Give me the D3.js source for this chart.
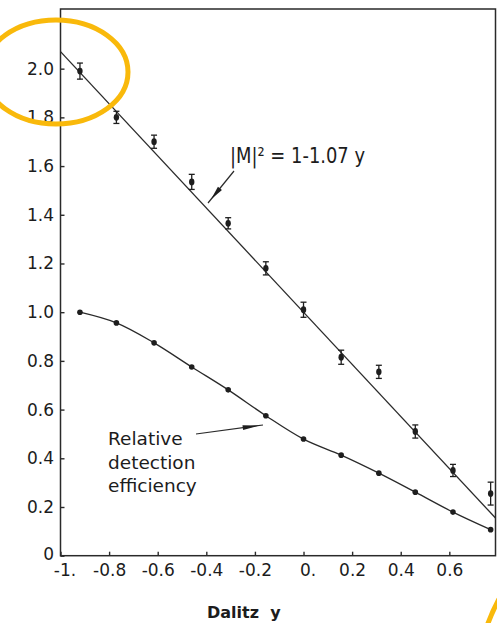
<!DOCTYPE html>
<html>
<head>
<meta charset="utf-8">
<script src="https://cdn.jsdelivr.net/npm/d3@7"></script>
<style>
  html, body { margin: 0; padding: 0; background: #fff; }
  svg { display: block; }
  text { font-family: "DejaVu Sans", sans-serif; fill: #1c1c1c; }
</style>
</head>
<body>
<svg id="chart" width="497" height="623"></svg>
<script>
// Dalitz-plot bin centres (y variable)
const dalitzY = [-0.92, -0.77, -0.615, -0.46, -0.31, -0.155, 0, 0.155, 0.31, 0.46, 0.615, 0.77];
// Measured |M|^2 per bin and its uncertainty
const matrixSq = [1.99, 1.80, 1.70, 1.535, 1.365, 1.18, 1.01, 0.815, 0.755, 0.51, 0.35, 0.255];
const matrixSqErr = [0.033, 0.025, 0.027, 0.031, 0.023, 0.027, 0.031, 0.029, 0.027, 0.027, 0.025, 0.047];
// Relative detection efficiency per bin
const efficiency = [1.0, 0.956, 0.874, 0.775, 0.681, 0.575, 0.479, 0.413, 0.339, 0.261, 0.179, 0.107];
// Linear fit |M|^2 = 1 - 1.07 y
const fitIntercept = 1;
const fitSlope = -1.07;

const xTicks = [-1, -0.8, -0.6, -0.4, -0.2, 0, 0.2, 0.4, 0.6];
const xTickLabels = ["-1.", "-0.8", "-0.6", "-0.4", "-0.2", "0.", "0.2", "0.4", "0.6"];
const yTicks = [0, 0.2, 0.4, 0.6, 0.8, 1.0, 1.2, 1.4, 1.6, 1.8, 2.0];
const yTickLabels = ["0", "0.2", "0.4", "0.6", "0.8", "1.0", "1.2", "1.4", "1.6", "1.8", "2.0"];

const svg = d3.select("#chart");
const plot = { left: 60.5, right: 495.5, top: 9, bottom: 555.7 };
const ink = "#1e1e1e";

const x = d3.scaleLinear().domain([-1, 0.79]).range([plot.left, plot.right]);
const y = d3.scaleLinear().domain([0, 2.245]).range([plot.bottom, plot.top]);

// frame
svg.append("rect")
  .attr("x", plot.left).attr("y", plot.top)
  .attr("width", plot.right - plot.left).attr("height", plot.bottom - plot.top)
  .attr("fill", "none").attr("stroke", "#2a2a2a").attr("stroke-width", 1.5);

// axes with inward ticks
const xAxis = d3.axisBottom(x)
  .tickValues(xTicks)
  .tickFormat((d, i) => xTickLabels[i])
  .tickSizeInner(-4).tickSizeOuter(0).tickPadding(8);
const gx = svg.append("g").attr("transform", `translate(0,${plot.bottom})`).call(xAxis);
gx.select(".domain").remove();
gx.selectAll(".tick line").attr("stroke", "#2a2a2a").attr("stroke-width", 1.4);
gx.selectAll(".tick text")
  .attr("font-size", 17).attr("font-family", "DejaVu Sans").attr("fill", ink)
  // labels with a trailing point sit slightly right of their tick
  .attr("dx", (d, i) => xTickLabels[i].endsWith(".") ? 4 : 0);

const yAxis = d3.axisLeft(y)
  .tickValues(yTicks)
  .tickFormat((d, i) => yTickLabels[i])
  .tickSizeInner(-4).tickSizeOuter(0).tickPadding(6.5);
const gy = svg.append("g").attr("transform", `translate(${plot.left},0)`).call(yAxis);
gy.select(".domain").remove();
gy.selectAll(".tick line").attr("stroke", "#2a2a2a").attr("stroke-width", 1.4);
gy.selectAll(".tick text").attr("font-size", 17).attr("font-family", "DejaVu Sans").attr("fill", ink);
gy.selectAll(".tick text").filter(d => d === 0).attr("dy", "0.2em");

// axis title
svg.append("text")
  .attr("x", 207).attr("y", 618)
  .attr("font-size", 16).attr("font-weight", "bold")
  .attr("fill", "#222")
  .style("white-space", "pre")
  .text("Dalitz  y");

// fitted straight line across the full range
const fitDomain = x.domain();
svg.append("line")
  .attr("x1", x(fitDomain[0])).attr("y1", y(fitIntercept + fitSlope * fitDomain[0]))
  .attr("x2", x(fitDomain[1])).attr("y2", y(fitIntercept + fitSlope * fitDomain[1]))
  .attr("stroke", "#2a2a2a").attr("stroke-width", 1.3);

// efficiency curve
const effPts = dalitzY.map((v, i) => [v, efficiency[i]]);
svg.append("path")
  .datum(effPts)
  .attr("d", d3.line().x(d => x(d[0])).y(d => y(d[1])).curve(d3.curveCatmullRom.alpha(0.5)))
  .attr("fill", "none").attr("stroke", "#2a2a2a").attr("stroke-width", 1.3);
svg.append("g").selectAll("circle")
  .data(effPts).join("circle")
  .attr("cx", d => x(d[0])).attr("cy", d => y(d[1]))
  .attr("r", 2.8).attr("fill", ink);

// measured |M|^2 with error bars
const meas = dalitzY.map((v, i) => ({ x: v, y: matrixSq[i], e: matrixSqErr[i] }));
const mg = svg.append("g").attr("stroke", ink).attr("stroke-width", 1.3);
mg.selectAll("line.bar").data(meas).join("line").attr("class", "bar")
  .attr("x1", d => x(d.x)).attr("x2", d => x(d.x))
  .attr("y1", d => y(d.y - d.e)).attr("y2", d => y(d.y + d.e));
mg.selectAll("line.capHi").data(meas).join("line").attr("class", "capHi")
  .attr("x1", d => x(d.x) - 3).attr("x2", d => x(d.x) + 3)
  .attr("y1", d => y(d.y + d.e)).attr("y2", d => y(d.y + d.e));
mg.selectAll("line.capLo").data(meas).join("line").attr("class", "capLo")
  .attr("x1", d => x(d.x) - 3).attr("x2", d => x(d.x) + 3)
  .attr("y1", d => y(d.y - d.e)).attr("y2", d => y(d.y - d.e));
svg.append("g").selectAll("ellipse").data(meas).join("ellipse")
  .attr("cx", d => x(d.x)).attr("cy", d => y(d.y))
  .attr("rx", 2.7).attr("ry", 3.4).attr("fill", ink);

// annotation arrows (line with elongated filled head)
function arrow(x1, y1, x2, y2, headTip, headLen, headHalf) {
  svg.append("line")
    .attr("x1", x1).attr("y1", y1).attr("x2", x2).attr("y2", y2)
    .attr("stroke", "#2a2a2a").attr("stroke-width", 1.2);
  const len = Math.hypot(x2 - x1, y2 - y1);
  const ux = (x2 - x1) / len, uy = (y2 - y1) / len;
  const tx = x1 + ux * headTip * len, ty = y1 + uy * headTip * len;
  const bx = tx - ux * headLen, by = ty - uy * headLen;
  svg.append("path")
    .attr("d", `M${tx},${ty} L${bx - uy * headHalf},${by + ux * headHalf} L${bx + uy * headHalf},${by - ux * headHalf} Z`)
    .attr("fill", "#1e1e1e");
}
arrow(234, 171, 208, 203, 0.88, 14, 2.6);
arrow(196, 434, 263, 425, 0.95, 17, 2.4);

// labels
svg.append("text")
  .attr("x", 230).attr("y", 163).attr("font-size", 22)
  .attr("textLength", 135).attr("lengthAdjust", "spacingAndGlyphs")
  .text("|M|² = 1-1.07 y");

const effLabel = svg.append("text").attr("font-size", 18.5);
["Relative", "detection", "efficiency"].forEach((t, i) => {
  effLabel.append("tspan").attr("x", 108).attr("y", 445 + i * 23.5).text(t);
});

// highlight marks
svg.append("ellipse")
  .attr("cx", 56).attr("cy", 72).attr("rx", 72).attr("ry", 52)
  .attr("fill", "none").attr("stroke", "#F9B90B").attr("stroke-width", 5);
svg.append("path")
  .attr("d", "M487,626 Q492,612 499,599")
  .attr("fill", "none").attr("stroke", "#F9B90B").attr("stroke-width", 5);
</script>
</body>
</html>
